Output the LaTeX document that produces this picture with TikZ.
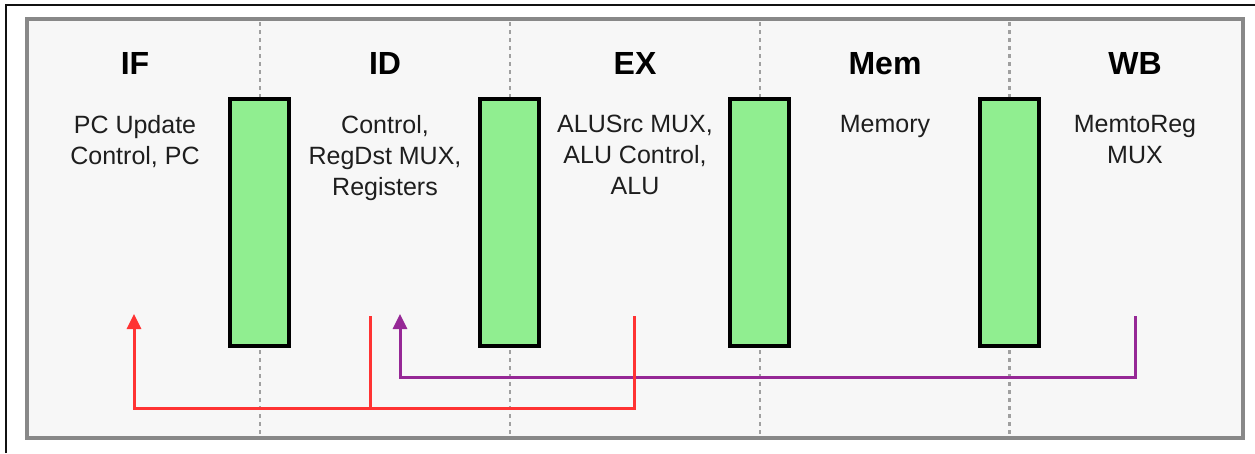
\documentclass[tikz,border=0pt]{standalone}
\usepackage{fontspec}
\setmainfont{Liberation Sans}
\usetikzlibrary{arrows.meta}
\definecolor{panelfill}{RGB}{247,247,247}
\definecolor{panelline}{RGB}{136,136,136}
\definecolor{divline}{RGB}{160,160,160}
\definecolor{regfill}{RGB}{144,238,144}
\definecolor{fwdred}{RGB}{255,51,51}
\definecolor{fwdpurple}{RGB}{150,40,150}
\definecolor{bodytext}{RGB}{30,30,30}
\tikzset{
  stagetitle/.style={anchor=base, inner sep=0pt, font=\fontsize{32}{38}\selectfont\bfseries, text=black},
  stagebody/.style={anchor=north, inner sep=0pt, align=center, font=\fontsize{25}{31}\selectfont, text=bodytext},
  regbox/.style={draw=black, line width=4pt, fill=regfill, minimum width=59pt, minimum height=247pt, inner sep=0pt},
  divider/.style={draw=divline, line width=2.5pt, dash pattern=on 4pt off 4pt},
  redline/.style={draw=fwdred, line width=3pt},
  purpleline/.style={draw=fwdpurple, line width=3pt},
  tipa/.style={-{Triangle[width=14pt,length=15pt]}}
}
\begin{document}
\begin{tikzpicture}[x=1pt,y=-1pt]
\useasboundingbox (0,0) rectangle (1255,453);
\fill[white] (0,0) rectangle (1255,453);
% outer frame (top and left only)
\draw[line width=2pt, color={rgb,255:red,17;green,17;blue,17}] (6,453) -- (6,5) -- (1255,5);
% panel
\draw[draw=panelline, fill=panelfill, line width=4.5pt] (27,19) rectangle (1243,438);
% dividers
\foreach \xx in {260,510,760,1009.5}{
  \draw[divider] (\xx,22) -- (\xx,436);
}
% pipeline registers
\node[regbox] (r1) at (259.5,222.5) {};
\node[regbox] (r2) at (509.5,222.5) {};
\node[regbox] (r3) at (759.5,222.5) {};
\node[regbox] (r4) at (1009.5,222.5) {};
% titles
\node[stagetitle] (tIF)  at (135,74) {IF};
\node[stagetitle] (tID)  at (385,74) {ID};
\node[stagetitle] (tEX)  at (635,74) {EX};
\node[stagetitle] (tMEM) at (885,74) {Mem};
\node[stagetitle] (tWB)  at (1135,74) {WB};
% bodies
\node[stagebody] (bIF)  at (135,115) {PC Update\\Control, PC};
\node[stagebody] (bID)  at (385,115) {Control,\\RegDst MUX,\\Registers};
\node[stagebody] (bEX)  at (635,115) {ALUSrc MUX,\\ALU Control,\\ALU};
\node[stagebody] (bMEM) at (885,115) {Memory};
\node[stagebody] (bWB)  at (1135,115) {MemtoReg\\MUX};
% forwarding paths
\coordinate (ifin)   at (134,314);
\coordinate (idout)  at (370,316);
\coordinate (exout)  at (634.5,316);
\coordinate (redbus) at (0,408);
\coordinate (idin)   at (400,314);
\coordinate (wbout)  at (1135,316);
\coordinate (purplebus) at (0,377.5);
\draw[purpleline, tipa] (wbout) -- (wbout |- purplebus) -| (idin);
\draw[redline, tipa] (exout) -- (exout |- redbus) -| (ifin);
\draw[redline] (idout) -- (idout |- redbus);
\end{tikzpicture}
\end{document}
